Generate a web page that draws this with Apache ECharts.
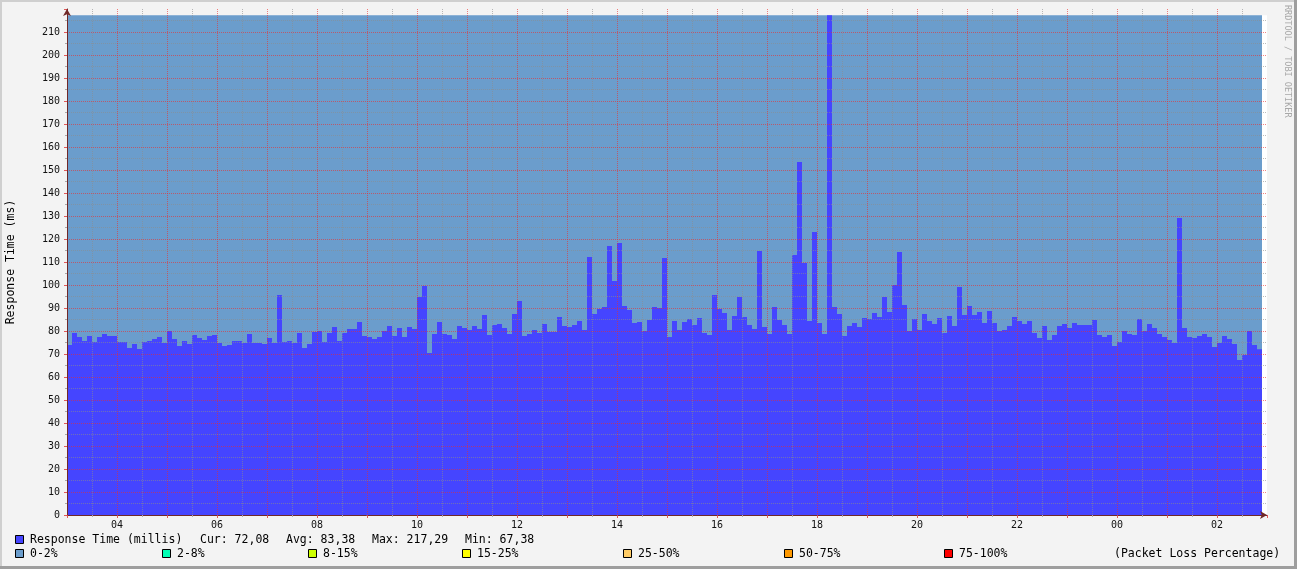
<!DOCTYPE html>
<html>
<head>
<meta charset="utf-8">
<script src="https://cdn.jsdelivr.net/npm/echarts@6/dist/echarts.min.js"></script>
<style>
  html, body { margin: 0; padding: 0; background: #f3f3f3; }
  #chart { width: 1297px; height: 569px; }
</style>
</head>
<body>
<div id="chart"></div>
<script>
// one sample every 6 minutes, starting at 03:00
var startHour = 3;
var stepMinutes = 6;

var responseTime = [
  73.9, 79.1, 77.4, 75.7, 77.8, 75.2, 77.4, 78.7, 77.8, 77.8,
  75.2, 75.2, 72.6, 74.3, 72.2, 75.2, 75.7, 76.5, 77.4, 74.8,
  80.0, 76.5, 73.5, 75.7, 74.3, 78.3, 77.0, 76.1, 77.8, 78.3,
  74.8, 73.5, 73.9, 75.7, 75.7, 74.8, 78.7, 74.8, 74.8, 74.3,
  77.0, 74.8, 95.7, 75.2, 75.7, 74.8, 79.1, 72.6, 74.3, 79.6,
  80.0, 75.2, 79.1, 81.7, 75.7, 79.1, 80.9, 80.9, 83.9, 77.8,
  77.4, 76.5, 77.4, 80.0, 82.2, 77.8, 81.3, 77.4, 81.7, 80.9,
  94.8, 99.6, 70.4, 78.7, 83.9, 78.7, 78.3, 76.5, 82.2, 81.3,
  80.4, 82.2, 80.9, 87.0, 78.3, 82.6, 83.0, 81.3, 78.7, 87.4,
  93.0, 77.8, 78.7, 80.4, 79.1, 83.0, 79.6, 79.6, 86.1, 82.2,
  81.7, 82.6, 84.3, 80.4, 112.2, 87.4, 89.6, 90.4, 117.0, 101.7,
  118.3, 90.9, 89.1, 83.5, 83.9, 80.0, 84.8, 90.4, 90.0, 111.7,
  77.4, 84.3, 80.4, 83.9, 85.2, 82.6, 85.7, 79.1, 78.3, 95.7,
  89.6, 87.8, 80.4, 86.5, 94.8, 86.1, 82.6, 80.9, 114.8, 81.7,
  78.7, 90.4, 84.8, 82.6, 78.7, 113.0, 153.5, 109.6, 84.3, 123.0,
  83.5, 78.7, 217.29, 90.4, 87.4, 77.8, 82.2, 83.5, 81.7, 85.7,
  85.2, 87.8, 86.1, 94.8, 88.3, 100.0, 114.3, 91.3, 80.0, 85.2,
  80.4, 87.4, 84.3, 83.0, 85.7, 79.1, 86.5, 82.2, 99.1, 87.0,
  90.9, 87.0, 88.3, 83.5, 88.7, 83.5, 80.0, 80.4, 82.2, 86.1,
  84.3, 83.0, 84.3, 79.1, 77.0, 82.2, 76.1, 78.3, 82.2, 83.0,
  81.3, 83.5, 82.6, 82.6, 82.6, 84.8, 78.3, 77.4, 78.3, 73.5,
  75.2, 80.0, 78.7, 78.3, 85.2, 80.0, 83.0, 81.3, 78.7, 77.4,
  76.1, 74.8, 129.1, 81.3, 77.4, 77.0, 77.8, 78.7, 77.4, 73.0,
  74.8, 77.8, 76.5, 74.3, 67.38, 69.6, 80.0, 73.9, 72.08
];

// packet loss class per stretch of samples (index into lossLabels)
var lossBands = [
  { start: 0, end: responseTime.length, level: 0 }
];

var lossLabels = ['0-2%', '2-8%', '8-15%', '15-25%', '25-50%', '50-75%', '75-100%'];
var lossColors = ['#6b9dcc', '#00ffb4', '#ccff00', '#ffff00', '#ffcc66', '#ff9900', '#ff0000'];

var seriesName = 'Response Time (millis)';
var statLabels = ['Cur: 72,08', 'Avg: 83,38', 'Max: 217,29', 'Min: 67,38'];

var mono = '"DejaVu Sans Mono", monospace';
var barColor = '#4545ff';
var dataMax = Math.max.apply(null, responseTime);
var dataEnd = responseTime.length * stepMinutes;

function pad(h) { return (h < 10 ? '0' : '') + h; }

var chart = echarts.init(document.getElementById('chart'));

var graphic = [
  // frame
  { type: 'rect', shape: { x: 0, y: 0, width: 1297, height: 2 }, style: { fill: '#cfcfcf' } },
  { type: 'rect', shape: { x: 0, y: 0, width: 2, height: 569 }, style: { fill: '#cfcfcf' } },
  { type: 'rect', shape: { x: 0, y: 566, width: 1297, height: 3 }, style: { fill: '#9e9e9e' } },
  { type: 'rect', shape: { x: 1294, y: 0, width: 3, height: 569 }, style: { fill: '#9e9e9e' } },
  {
    type: 'text', x: 1287.5, y: 5, rotation: -Math.PI / 2,
    style: { text: 'RRDTOOL / TOBI OETIKER', font: '8.5px ' + mono, fill: '#a8a8a8', align: 'left', verticalAlign: 'middle' }
  },
  // legend row 1
  { type: 'rect', shape: { x: 15.5, y: 535.5, width: 8, height: 8 }, style: { fill: barColor, stroke: '#000', lineWidth: 1 } },
  { type: 'text', x: 30, y: 540.5, style: { text: seriesName, font: '11.5px ' + mono, fill: '#000', verticalAlign: 'middle' } }
];

var statX = [200, 286, 372, 465];
statLabels.forEach(function (s, i) {
  graphic.push({ type: 'text', x: statX[i], y: 540.5, style: { text: s, font: '11.5px ' + mono, fill: '#000', verticalAlign: 'middle' } });
});

var lossX = [15, 162, 308, 462, 623, 784, 944];
lossLabels.forEach(function (s, i) {
  graphic.push({ type: 'rect', shape: { x: lossX[i] + 0.5, y: 549.5, width: 8, height: 8 }, style: { fill: lossColors[i], stroke: '#000', lineWidth: 1 } });
  graphic.push({ type: 'text', x: lossX[i] + 15, y: 554.5, style: { text: s, font: '11.5px ' + mono, fill: '#000', verticalAlign: 'middle' } });
});
graphic.push({ type: 'text', x: 1114, y: 554.5, style: { text: '(Packet Loss Percentage)', font: '11.5px ' + mono, fill: '#000', verticalAlign: 'middle' } });

var majorGrid = { color: 'rgba(235, 45, 45, 0.6)', type: [1, 1], width: 1 };
var minorGrid = { color: 'rgba(140, 140, 140, 0.6)', type: [1, 1], width: 1 };
var axisColor = '#702828';

chart.setOption({
  animation: false,
  backgroundColor: '#f3f3f3',
  textStyle: { fontFamily: mono },
  graphic: graphic,
  grid: { left: 67, right: 30, top: 9, bottom: 54, outerBoundsMode: 'none', containLabel: false },
  xAxis: {
    type: 'value', min: 0, max: 1440, interval: 60, z: 10,
    axisLine: { lineStyle: { color: axisColor }, symbol: ['none', 'arrow'], symbolSize: [6, 7] },
    axisTick: { show: true, length: 3, lineStyle: { color: 'rgba(225, 70, 70, 0.9)' } },
    minorTick: { show: true, splitNumber: 2, length: 2, lineStyle: { color: '#aaa' } },
    axisLabel: {
      fontSize: 10, fontFamily: mono, color: '#111', margin: 5,
      formatter: function (v) {
        if (v % 60 !== 0 || v >= 1440) return '';
        var h = (startHour + v / 60) % 24;
        return h % 2 === 0 ? pad(h) : '';
      }
    },
    splitLine: { show: true, showMinLine: false, showMaxLine: false, lineStyle: majorGrid },
    minorSplitLine: { show: true, lineStyle: minorGrid }
  },
  yAxis: {
    type: 'value', min: 0, max: 220, interval: 10, z: 10,
    name: 'Response Time (ms)', nameLocation: 'middle', nameGap: 50,
    nameTextStyle: { fontFamily: mono, fontSize: 11.5, color: '#000' },
    axisLine: { show: true, lineStyle: { color: axisColor }, symbol: ['none', 'arrow'], symbolSize: [6, 7] },
    axisTick: { show: true, length: 3, lineStyle: { color: 'rgba(225, 70, 70, 0.9)' } },
    minorTick: { show: true, splitNumber: 2, length: 2, lineStyle: { color: '#aaa' } },
    axisLabel: {
      fontSize: 10, fontFamily: mono, color: '#111', margin: 7,
      formatter: function (v) { return v % 10 === 0 && v < 220 ? String(v) : ''; }
    },
    splitLine: { show: true, showMinLine: false, showMaxLine: false, lineStyle: majorGrid },
    minorSplitLine: { show: true, lineStyle: minorGrid }
  },
  series: [
    {
      name: 'loss',
      type: 'custom',
      z: 1,
      silent: true,
      data: lossBands.map(function (b) { return [b.start * stepMinutes, b.end * stepMinutes, b.level]; }),
      renderItem: function (params, api) {
        var p0 = api.coord([api.value(0), dataMax]);
        var p1 = api.coord([api.value(1), 0]);
        return {
          type: 'rect',
          shape: { x: p0[0], y: p0[1], width: p1[0] - p0[0], height: p1[1] - p0[1] },
          style: { fill: lossColors[api.value(2)] }
        };
      },
      markArea: {
        silent: true,
        itemStyle: { color: '#ffffff' },
        data: [[{ xAxis: dataEnd, yAxis: 0 }, { xAxis: 1440, yAxis: dataMax }]]
      }
    },
    {
      name: seriesName,
      type: 'custom',
      z: 2,
      silent: true,
      data: responseTime.map(function (v, i) { return [i * stepMinutes, v]; }),
      renderItem: function (params, api) {
        var p0 = api.coord([api.value(0), api.value(1)]);
        var p1 = api.coord([api.value(0) + stepMinutes, 0]);
        return {
          type: 'rect',
          shape: { x: p0[0], y: p0[1], width: p1[0] - p0[0], height: p1[1] - p0[1] },
          style: { fill: barColor }
        };
      }
    }
  ]
});
</script>
</body>
</html>
